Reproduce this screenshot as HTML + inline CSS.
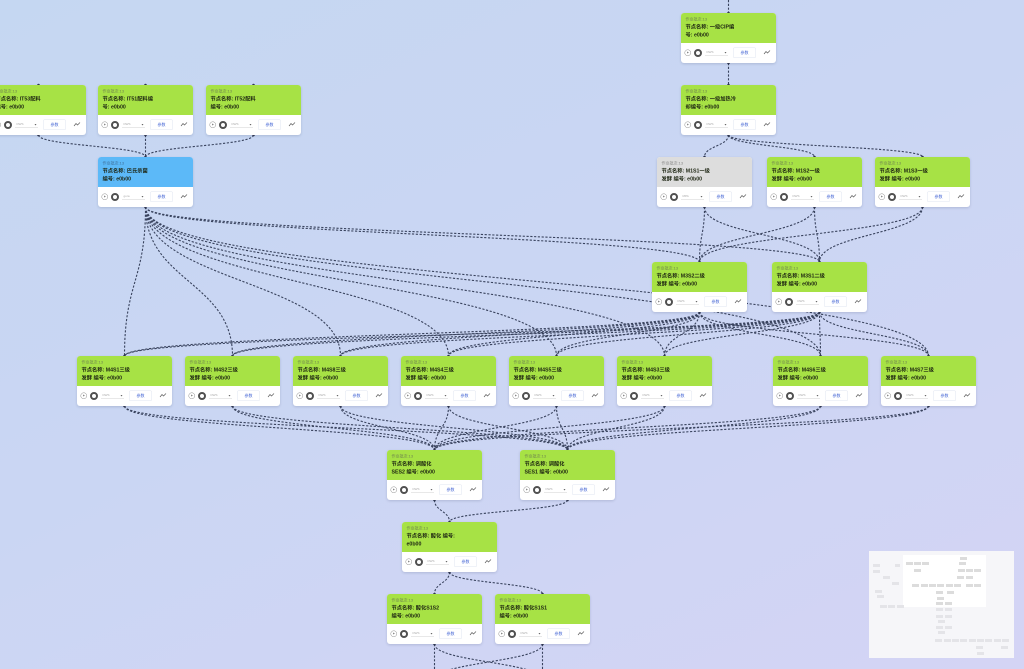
<!DOCTYPE html>
<html><head><meta charset="utf-8">
<style>
html,body{margin:0;padding:0;}
body{width:1024px;height:669px;overflow:hidden;position:relative;
background:linear-gradient(155deg,#c5d7f2 0%,#cad6f3 45%,#d4d4f5 100%);
font-family:"Liberation Sans","Noto Sans CJK SC",sans-serif;}
svg.edges{position:absolute;left:0;top:0;}
.n{position:absolute;width:95px;height:50px;}
.in{width:190px;height:100px;transform:scale(.5);transform-origin:0 0;border-radius:6px;overflow:hidden;background:#fff;box-shadow:0 2px 5px rgba(40,50,90,.18);position:relative;}
.h{height:60px;background:#a7e245;padding:5px 9px 0;box-sizing:border-box;}
.h.blue{background:#5cb9f8;}
.h.gray{background:#dddddd;}
.t1{font-size:8px;color:#6f8450;line-height:15px;white-space:nowrap;}
.h.blue .t1{color:#3f6f99;}
.h.gray .t1{color:#888;}
.t2{font-size:10.5px;color:#1d2512;line-height:16px;font-weight:bold;white-space:nowrap;}
.pl{position:absolute;left:7px;top:73px;width:11px;height:11px;border:1.6px solid #8a8a8a;border-radius:50%;}
.pl:after{content:"";position:absolute;left:4px;top:3px;border-left:4px solid #8a8a8a;border-top:2.5px solid transparent;border-bottom:2.5px solid transparent;}
.st{position:absolute;left:26px;top:72px;width:8px;height:8px;border:4px solid #505050;border-radius:50%;background:#fff;}
.sel{position:absolute;left:48px;top:73px;width:46px;height:13px;border-bottom:1px solid #d0d0d0;font-size:6px;color:#aaa;line-height:13px;padding-left:3px;box-sizing:border-box;}
.sel:after{content:"";position:absolute;right:3px;top:5px;border-top:3px solid #666;border-left:2.5px solid transparent;border-right:2.5px solid transparent;}
.btn{position:absolute;left:104px;top:69px;width:46px;height:21px;border:1px solid #dfe5f0;border-radius:3px;box-sizing:border-box;font-size:8px;color:#4a6ad6;text-align:center;line-height:19px;}
.ch{position:absolute;left:165px;top:74px;}
.mm{position:absolute;left:869px;top:551px;width:145px;height:107px;background:#f6f6f9;}
.vp{position:absolute;left:903px;top:555px;width:83px;height:52px;background:#fff;}
.r{position:absolute;width:7px;height:3px;background:#e4e4e8;}
.r.i{background:#dcdcdc;}
</style></head><body>

<svg class="edges" width="1024" height="669" viewBox="0 0 1024 669">
<g fill="none" stroke="#39435e" stroke-width="1.1" stroke-dasharray="2.2 1.6">
<path d="M728.5 0 L728.5 13 M728.5 63 L728.5 85"/>
<path d="M728.5 135 C728.5 146,704.5 146,704.5 157 M728.5 135 C728.5 146,814.5 146,814.5 157 M728.5 135 C728.5 146,922.5 146,922.5 157"/>
<path d="M38.5 135 C38.5 146,145.5 146,145.5 157 M145.5 135 L145.5 157 M253.5 135 C253.5 146,145.5 146,145.5 157"/>
<path d="M704.5 207 C704.5 234.5,699.5 234.5,699.5 262 M704.5 207 C704.5 234.5,819.5 234.5,819.5 262 M814.5 207 C814.5 234.5,699.5 234.5,699.5 262 M814.5 207 C814.5 234.5,819.5 234.5,819.5 262 M922.5 207 C922.5 234.5,699.5 234.5,699.5 262 M922.5 207 C922.5 234.5,819.5 234.5,819.5 262"/>
<path d="M145.5 207 C145.5 234.5,699.5 234.5,699.5 262 M145.5 207 C145.5 234.5,819.5 234.5,819.5 262"/>
<path d="M145.5 207 C145.5 281.5,124.5 281.5,124.5 356 M145.5 207 C145.5 281.5,232.5 281.5,232.5 356 M145.5 207 C145.5 281.5,340.5 281.5,340.5 356 M145.5 207 C145.5 281.5,448.5 281.5,448.5 356 M145.5 207 C145.5 281.5,556.5 281.5,556.5 356 M145.5 207 C145.5 281.5,664.5 281.5,664.5 356 M145.5 207 C145.5 281.5,820.5 281.5,820.5 356 M145.5 207 C145.5 281.5,928.5 281.5,928.5 356"/>
<path d="M699.5 312 C699.5 334,124.5 334,124.5 356 M699.5 312 C699.5 334,232.5 334,232.5 356 M699.5 312 C699.5 334,340.5 334,340.5 356 M699.5 312 C699.5 334,448.5 334,448.5 356 M699.5 312 C699.5 334,556.5 334,556.5 356 M699.5 312 C699.5 334,664.5 334,664.5 356 M699.5 312 C699.5 334,820.5 334,820.5 356 M699.5 312 C699.5 334,928.5 334,928.5 356"/>
<path d="M819.5 312 C819.5 334,124.5 334,124.5 356 M819.5 312 C819.5 334,232.5 334,232.5 356 M819.5 312 C819.5 334,340.5 334,340.5 356 M819.5 312 C819.5 334,448.5 334,448.5 356 M819.5 312 C819.5 334,556.5 334,556.5 356 M819.5 312 C819.5 334,664.5 334,664.5 356 M819.5 312 C819.5 334,820.5 334,820.5 356 M819.5 312 C819.5 334,928.5 334,928.5 356"/>
<path d="M124.5 406 C124.5 428,434.5 428,434.5 450 M232.5 406 C232.5 428,434.5 428,434.5 450 M340.5 406 C340.5 428,434.5 428,434.5 450 M448.5 406 C448.5 428,434.5 428,434.5 450 M556.5 406 C556.5 428,434.5 428,434.5 450 M664.5 406 C664.5 428,434.5 428,434.5 450 M820.5 406 C820.5 428,434.5 428,434.5 450 M928.5 406 C928.5 428,434.5 428,434.5 450"/>
<path d="M124.5 406 C124.5 428,567.5 428,567.5 450 M232.5 406 C232.5 428,567.5 428,567.5 450 M340.5 406 C340.5 428,567.5 428,567.5 450 M448.5 406 C448.5 428,567.5 428,567.5 450 M556.5 406 C556.5 428,567.5 428,567.5 450 M664.5 406 C664.5 428,567.5 428,567.5 450 M820.5 406 C820.5 428,567.5 428,567.5 450 M928.5 406 C928.5 428,567.5 428,567.5 450"/>
<path d="M434.5 500 C434.5 511,449.5 511,449.5 522 M567.5 500 C567.5 511,449.5 511,449.5 522"/>
<path d="M449.5 572 C449.5 583,434.5 583,434.5 594 M449.5 572 C449.5 583,542.5 583,542.5 594"/>
<path d="M434.5 644 C434.5 662,434.5 662,434.5 680 M434.5 644 C434.5 662,542.5 662,542.5 680 M542.5 644 C542.5 662,434.5 662,434.5 680 M542.5 644 C542.5 662,542.5 662,542.5 680"/>
</g>
<g fill="#2f3650">
<circle cx="728.5" cy="13" r="1.3"/><circle cx="728.5" cy="63" r="1.3"/><circle cx="728.5" cy="85" r="1.3"/><circle cx="728.5" cy="135" r="1.3"/>
<circle cx="38.5" cy="85" r="1.3"/><circle cx="145.5" cy="85" r="1.3"/><circle cx="253.5" cy="85" r="1.3"/>
<circle cx="38.5" cy="135" r="1.3"/><circle cx="145.5" cy="135" r="1.3"/><circle cx="253.5" cy="135" r="1.3"/>
<circle cx="145.5" cy="157" r="1.3"/><circle cx="145.5" cy="207" r="1.3"/>
<circle cx="704.5" cy="157" r="1.3"/><circle cx="814.5" cy="157" r="1.3"/><circle cx="922.5" cy="157" r="1.3"/>
<circle cx="704.5" cy="207" r="1.3"/><circle cx="814.5" cy="207" r="1.3"/><circle cx="922.5" cy="207" r="1.3"/>
<circle cx="699.5" cy="262" r="1.3"/><circle cx="819.5" cy="262" r="1.3"/><circle cx="699.5" cy="312" r="1.3"/><circle cx="819.5" cy="312" r="1.3"/>
<circle cx="124.5" cy="356" r="1.3"/><circle cx="232.5" cy="356" r="1.3"/><circle cx="340.5" cy="356" r="1.3"/><circle cx="448.5" cy="356" r="1.3"/><circle cx="556.5" cy="356" r="1.3"/><circle cx="664.5" cy="356" r="1.3"/><circle cx="820.5" cy="356" r="1.3"/><circle cx="928.5" cy="356" r="1.3"/>
<circle cx="124.5" cy="406" r="1.3"/><circle cx="232.5" cy="406" r="1.3"/><circle cx="340.5" cy="406" r="1.3"/><circle cx="448.5" cy="406" r="1.3"/><circle cx="556.5" cy="406" r="1.3"/><circle cx="664.5" cy="406" r="1.3"/><circle cx="820.5" cy="406" r="1.3"/><circle cx="928.5" cy="406" r="1.3"/>
<circle cx="434.5" cy="450" r="1.3"/><circle cx="567.5" cy="450" r="1.3"/><circle cx="434.5" cy="500" r="1.3"/><circle cx="567.5" cy="500" r="1.3"/>
<circle cx="449.5" cy="522" r="1.3"/><circle cx="449.5" cy="572" r="1.3"/>
<circle cx="434.5" cy="594" r="1.3"/><circle cx="542.5" cy="594" r="1.3"/><circle cx="434.5" cy="644" r="1.3"/><circle cx="542.5" cy="644" r="1.3"/>
</g>
</svg>

<!-- nodes -->
<div class="n" style="left:681px;top:13px"><div class="in"><div class="h"><div class="t1">作业批次:13</div><div class="t2">节点名称: 一级CIP编</div><div class="t2">号: e0b00</div></div><div class="pl"></div><div class="st"></div><div class="sel">DWS</div><div class="btn">参数</div><svg class="ch" width="14" height="10"><polyline points="1,8 5,3 8,6 13,1" fill="none" stroke="#555" stroke-width="1.3"/></svg></div></div>

<div class="n" style="left:681px;top:85px"><div class="in"><div class="h"><div class="t1">作业批次:13</div><div class="t2">节点名称: 一级加热冷</div><div class="t2">却编号: e0b00</div></div><div class="pl"></div><div class="st"></div><div class="sel">DWS</div><div class="btn">参数</div><svg class="ch" width="14" height="10"><polyline points="1,8 5,3 8,6 13,1" fill="none" stroke="#555" stroke-width="1.3"/></svg></div></div>

<div class="n" style="left:-9px;top:85px"><div class="in"><div class="h"><div class="t1">作业批次:13</div><div class="t2">节点名称: IT53配料</div><div class="t2">编号: e0b00</div></div><div class="pl"></div><div class="st"></div><div class="sel">DWS</div><div class="btn">参数</div><svg class="ch" width="14" height="10"><polyline points="1,8 5,3 8,6 13,1" fill="none" stroke="#555" stroke-width="1.3"/></svg></div></div>

<div class="n" style="left:98px;top:85px"><div class="in"><div class="h"><div class="t1">作业批次:13</div><div class="t2">节点名称: IT51配料编</div><div class="t2">号: e0b00</div></div><div class="pl"></div><div class="st"></div><div class="sel">DWS</div><div class="btn">参数</div><svg class="ch" width="14" height="10"><polyline points="1,8 5,3 8,6 13,1" fill="none" stroke="#555" stroke-width="1.3"/></svg></div></div>

<div class="n" style="left:206px;top:85px"><div class="in"><div class="h"><div class="t1">作业批次:13</div><div class="t2">节点名称: IT52配料</div><div class="t2">编号: e0b00</div></div><div class="pl"></div><div class="st"></div><div class="sel">DWS</div><div class="btn">参数</div><svg class="ch" width="14" height="10"><polyline points="1,8 5,3 8,6 13,1" fill="none" stroke="#555" stroke-width="1.3"/></svg></div></div>

<div class="n" style="left:98px;top:157px"><div class="in"><div class="h blue"><div class="t1">作业批次:13</div><div class="t2">节点名称: 巴氏杀菌</div><div class="t2">编号: e0b00</div></div><div class="pl"></div><div class="st"></div><div class="sel">gora</div><div class="btn">参数</div><svg class="ch" width="14" height="10"><polyline points="1,8 5,3 8,6 13,1" fill="none" stroke="#555" stroke-width="1.3"/></svg></div></div>

<div class="n" style="left:657px;top:157px"><div class="in"><div class="h gray"><div class="t1">作业批次:13</div><div class="t2">节点名称: M1S1一级</div><div class="t2">发酵 编号: e0b00</div></div><div class="pl"></div><div class="st"></div><div class="sel">MPA</div><div class="btn">参数</div><svg class="ch" width="14" height="10"><polyline points="1,8 5,3 8,6 13,1" fill="none" stroke="#555" stroke-width="1.3"/></svg></div></div>

<div class="n" style="left:767px;top:157px"><div class="in"><div class="h"><div class="t1">作业批次:13</div><div class="t2">节点名称: M1S2一级</div><div class="t2">发酵 编号: e0b00</div></div><div class="pl"></div><div class="st"></div><div class="sel">DWS</div><div class="btn">参数</div><svg class="ch" width="14" height="10"><polyline points="1,8 5,3 8,6 13,1" fill="none" stroke="#555" stroke-width="1.3"/></svg></div></div>

<div class="n" style="left:875px;top:157px"><div class="in"><div class="h"><div class="t1">作业批次:13</div><div class="t2">节点名称: M1S3一级</div><div class="t2">发酵 编号: e0b00</div></div><div class="pl"></div><div class="st"></div><div class="sel">DWS</div><div class="btn">参数</div><svg class="ch" width="14" height="10"><polyline points="1,8 5,3 8,6 13,1" fill="none" stroke="#555" stroke-width="1.3"/></svg></div></div>

<div class="n" style="left:652px;top:262px"><div class="in"><div class="h"><div class="t1">作业批次:13</div><div class="t2">节点名称: M3S2二级</div><div class="t2">发酵 编号: e0b00</div></div><div class="pl"></div><div class="st"></div><div class="sel">DWS</div><div class="btn">参数</div><svg class="ch" width="14" height="10"><polyline points="1,8 5,3 8,6 13,1" fill="none" stroke="#555" stroke-width="1.3"/></svg></div></div>

<div class="n" style="left:772px;top:262px"><div class="in"><div class="h"><div class="t1">作业批次:13</div><div class="t2">节点名称: M3S1二级</div><div class="t2">发酵 编号: e0b00</div></div><div class="pl"></div><div class="st"></div><div class="sel">DWS</div><div class="btn">参数</div><svg class="ch" width="14" height="10"><polyline points="1,8 5,3 8,6 13,1" fill="none" stroke="#555" stroke-width="1.3"/></svg></div></div>

<div class="n" style="left:77px;top:356px"><div class="in"><div class="h"><div class="t1">作业批次:13</div><div class="t2">节点名称: M4S1三级</div><div class="t2">发酵 编号: e0b00</div></div><div class="pl"></div><div class="st"></div><div class="sel">DWS</div><div class="btn">参数</div><svg class="ch" width="14" height="10"><polyline points="1,8 5,3 8,6 13,1" fill="none" stroke="#555" stroke-width="1.3"/></svg></div></div>

<div class="n" style="left:185px;top:356px"><div class="in"><div class="h"><div class="t1">作业批次:13</div><div class="t2">节点名称: M4S2三级</div><div class="t2">发酵 编号: e0b00</div></div><div class="pl"></div><div class="st"></div><div class="sel">DWS</div><div class="btn">参数</div><svg class="ch" width="14" height="10"><polyline points="1,8 5,3 8,6 13,1" fill="none" stroke="#555" stroke-width="1.3"/></svg></div></div>

<div class="n" style="left:293px;top:356px"><div class="in"><div class="h"><div class="t1">作业批次:13</div><div class="t2">节点名称: M4S8三级</div><div class="t2">发酵 编号: e0b00</div></div><div class="pl"></div><div class="st"></div><div class="sel">DWS</div><div class="btn">参数</div><svg class="ch" width="14" height="10"><polyline points="1,8 5,3 8,6 13,1" fill="none" stroke="#555" stroke-width="1.3"/></svg></div></div>

<div class="n" style="left:401px;top:356px"><div class="in"><div class="h"><div class="t1">作业批次:13</div><div class="t2">节点名称: M4S4三级</div><div class="t2">发酵 编号: e0b00</div></div><div class="pl"></div><div class="st"></div><div class="sel">DWS</div><div class="btn">参数</div><svg class="ch" width="14" height="10"><polyline points="1,8 5,3 8,6 13,1" fill="none" stroke="#555" stroke-width="1.3"/></svg></div></div>

<div class="n" style="left:509px;top:356px"><div class="in"><div class="h"><div class="t1">作业批次:13</div><div class="t2">节点名称: M4S5三级</div><div class="t2">发酵 编号: e0b00</div></div><div class="pl"></div><div class="st"></div><div class="sel">DWS</div><div class="btn">参数</div><svg class="ch" width="14" height="10"><polyline points="1,8 5,3 8,6 13,1" fill="none" stroke="#555" stroke-width="1.3"/></svg></div></div>

<div class="n" style="left:617px;top:356px"><div class="in"><div class="h"><div class="t1">作业批次:13</div><div class="t2">节点名称: M4S3三级</div><div class="t2">发酵 编号: e0b00</div></div><div class="pl"></div><div class="st"></div><div class="sel">DWS</div><div class="btn">参数</div><svg class="ch" width="14" height="10"><polyline points="1,8 5,3 8,6 13,1" fill="none" stroke="#555" stroke-width="1.3"/></svg></div></div>

<div class="n" style="left:773px;top:356px"><div class="in"><div class="h"><div class="t1">作业批次:13</div><div class="t2">节点名称: M4S6三级</div><div class="t2">发酵 编号: e0b00</div></div><div class="pl"></div><div class="st"></div><div class="sel">DWS</div><div class="btn">参数</div><svg class="ch" width="14" height="10"><polyline points="1,8 5,3 8,6 13,1" fill="none" stroke="#555" stroke-width="1.3"/></svg></div></div>

<div class="n" style="left:881px;top:356px"><div class="in"><div class="h"><div class="t1">作业批次:13</div><div class="t2">节点名称: M4S7三级</div><div class="t2">发酵 编号: e0b00</div></div><div class="pl"></div><div class="st"></div><div class="sel">DWS</div><div class="btn">参数</div><svg class="ch" width="14" height="10"><polyline points="1,8 5,3 8,6 13,1" fill="none" stroke="#555" stroke-width="1.3"/></svg></div></div>

<div class="n" style="left:387px;top:450px"><div class="in"><div class="h"><div class="t1">作业批次:13</div><div class="t2">节点名称: 调酸化</div><div class="t2">SES2 编号: e0b00</div></div><div class="pl"></div><div class="st"></div><div class="sel">DWS</div><div class="btn">参数</div><svg class="ch" width="14" height="10"><polyline points="1,8 5,3 8,6 13,1" fill="none" stroke="#555" stroke-width="1.3"/></svg></div></div>

<div class="n" style="left:520px;top:450px"><div class="in"><div class="h"><div class="t1">作业批次:13</div><div class="t2">节点名称: 调酸化</div><div class="t2">SES1 编号: e0b00</div></div><div class="pl"></div><div class="st"></div><div class="sel">DWS</div><div class="btn">参数</div><svg class="ch" width="14" height="10"><polyline points="1,8 5,3 8,6 13,1" fill="none" stroke="#555" stroke-width="1.3"/></svg></div></div>

<div class="n" style="left:402px;top:522px"><div class="in"><div class="h"><div class="t1">作业批次:13</div><div class="t2">节点名称: 酸化 编号:</div><div class="t2">e0b00</div></div><div class="pl"></div><div class="st"></div><div class="sel">DWS</div><div class="btn">参数</div><svg class="ch" width="14" height="10"><polyline points="1,8 5,3 8,6 13,1" fill="none" stroke="#555" stroke-width="1.3"/></svg></div></div>

<div class="n" style="left:387px;top:594px"><div class="in"><div class="h"><div class="t1">作业批次:13</div><div class="t2">节点名称: 酸化S1S2</div><div class="t2">编号: e0b00</div></div><div class="pl"></div><div class="st"></div><div class="sel">DWS</div><div class="btn">参数</div><svg class="ch" width="14" height="10"><polyline points="1,8 5,3 8,6 13,1" fill="none" stroke="#555" stroke-width="1.3"/></svg></div></div>

<div class="n" style="left:495px;top:594px"><div class="in"><div class="h"><div class="t1">作业批次:13</div><div class="t2">节点名称: 酸化S1S1</div><div class="t2">编号: e0b00</div></div><div class="pl"></div><div class="st"></div><div class="sel">DWS</div><div class="btn">参数</div><svg class="ch" width="14" height="10"><polyline points="1,8 5,3 8,6 13,1" fill="none" stroke="#555" stroke-width="1.3"/></svg></div></div>

<!-- minimap -->
<div class="mm"></div>
<div class="vp"></div>
<div class="r" style="left:873px;top:564px"></div>
<div class="r" style="left:895px;top:564px;width:5px"></div>
<div class="r" style="left:873px;top:570px"></div>
<div class="r" style="left:883px;top:576px"></div>
<div class="r" style="left:892px;top:582px"></div>
<div class="r" style="left:875px;top:590px"></div>
<div class="r" style="left:877px;top:595px"></div>
<div class="r" style="left:880px;top:605px"></div>
<div class="r" style="left:888px;top:605px"></div>
<div class="r" style="left:897px;top:605px"></div>
<div class="r i" style="left:960px;top:557px"></div>
<div class="r i" style="left:906px;top:562px"></div>
<div class="r i" style="left:914px;top:562px"></div>
<div class="r i" style="left:922px;top:562px"></div>
<div class="r i" style="left:959px;top:562px"></div>
<div class="r i" style="left:914px;top:569px"></div>
<div class="r i" style="left:958px;top:569px"></div>
<div class="r i" style="left:966px;top:569px"></div>
<div class="r i" style="left:974px;top:569px"></div>
<div class="r i" style="left:957px;top:576px"></div>
<div class="r i" style="left:966px;top:576px"></div>
<div class="r i" style="left:912px;top:584px"></div>
<div class="r i" style="left:921px;top:584px"></div>
<div class="r i" style="left:929px;top:584px"></div>
<div class="r i" style="left:937px;top:584px"></div>
<div class="r i" style="left:946px;top:584px"></div>
<div class="r i" style="left:954px;top:584px"></div>
<div class="r i" style="left:966px;top:584px"></div>
<div class="r i" style="left:974px;top:584px"></div>
<div class="r i" style="left:936px;top:591px"></div>
<div class="r i" style="left:947px;top:591px"></div>
<div class="r i" style="left:937px;top:597px"></div>
<div class="r i" style="left:936px;top:602px"></div>
<div class="r i" style="left:945px;top:602px"></div>
<div class="r" style="left:936px;top:608px"></div>
<div class="r" style="left:945px;top:608px"></div>
<div class="r" style="left:936px;top:615px"></div>
<div class="r" style="left:945px;top:615px"></div>
<div class="r" style="left:938px;top:620px"></div>
<div class="r" style="left:936px;top:626px"></div>
<div class="r" style="left:945px;top:626px"></div>
<div class="r" style="left:938px;top:631px"></div>
<div class="r" style="left:935px;top:639px"></div>
<div class="r" style="left:944px;top:639px"></div>
<div class="r" style="left:952px;top:639px"></div>
<div class="r" style="left:960px;top:639px"></div>
<div class="r" style="left:969px;top:639px"></div>
<div class="r" style="left:977px;top:639px"></div>
<div class="r" style="left:985px;top:639px"></div>
<div class="r" style="left:994px;top:639px"></div>
<div class="r" style="left:1002px;top:639px"></div>
<div class="r" style="left:976px;top:646px"></div>
<div class="r" style="left:1001px;top:646px"></div>
<div class="r" style="left:977px;top:652px"></div>
</body></html>
